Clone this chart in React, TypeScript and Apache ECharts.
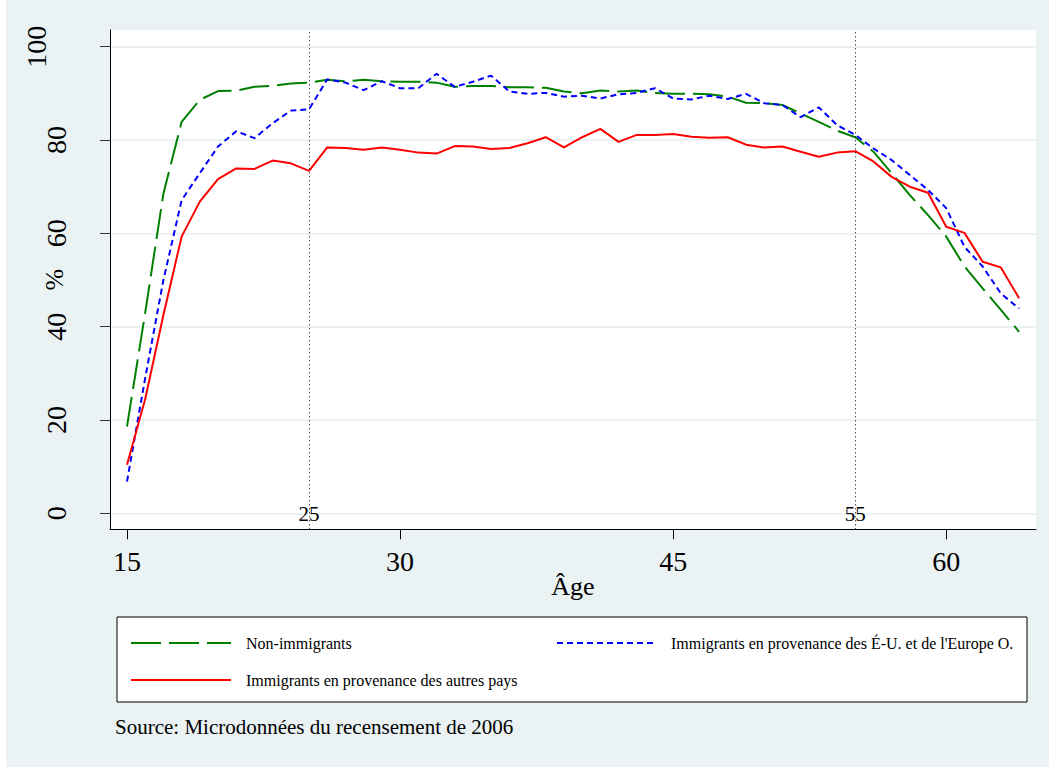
import React, { useEffect, useRef } from "react";
import * as echarts from "echarts";

const ages = [
  15, 16, 17, 18, 19, 20, 21, 22, 23, 24, 25, 26, 27, 28, 29, 30, 31, 32, 33, 34,
  35, 36, 37, 38, 39, 40, 41, 42, 43, 44, 45, 46, 47, 48, 49, 50, 51, 52, 53, 54,
  55, 56, 57, 58, 59, 60, 61, 62, 63, 64,
];

const nonImmigrants = [
  18.6, 43.0, 68.5, 83.9, 88.6, 90.5, 90.6, 91.4, 91.6, 92.1, 92.3, 92.9, 92.6, 92.9, 92.6, 92.5, 92.5, 92.3, 91.4, 91.6,
  91.6, 91.3, 91.3, 91.2, 90.4, 90.0, 90.6, 90.4, 90.6, 90.1, 89.9, 89.9, 89.8, 89.3, 88.0, 87.9, 87.5, 85.7, 83.9, 82.0,
  80.6, 77.5, 72.9, 68.2, 63.9, 59.3, 52.9, 48.2, 43.6, 38.9,
];

const usWestEurope = [
  6.8, 29.0, 50.0, 67.1, 72.9, 78.6, 81.9, 80.4, 83.6, 86.3, 86.6, 93.0, 92.3, 90.7, 92.6, 91.1, 91.1, 94.2, 91.4, 92.5,
  93.8, 90.4, 89.9, 90.1, 89.3, 89.5, 88.9, 89.8, 90.1, 91.1, 88.9, 88.7, 89.5, 88.8, 89.9, 87.9, 87.5, 84.9, 87.0, 83.2,
  81.1, 78.2, 75.7, 72.5, 69.3, 65.4, 57.1, 52.9, 47.1, 43.9,
];

const otherCountries = [
  10.4, 24.5, 42.5, 59.3, 66.8, 71.6, 73.9, 73.8, 75.6, 75.0, 73.4, 78.4, 78.3, 77.9, 78.4, 77.9, 77.3, 77.1, 78.7, 78.6,
  78.1, 78.3, 79.3, 80.6, 78.4, 80.6, 82.4, 79.6, 81.1, 81.1, 81.3, 80.7, 80.5, 80.6, 79.0, 78.4, 78.6, 77.5, 76.4, 77.3,
  77.6, 75.4, 72.1, 70.0, 68.7, 61.4, 60.1, 53.9, 52.7, 46.1,
];

const seriesNames = [
  "Non-immigrants",
  "Immigrants en provenance des É-U. et de l'Europe O.",
  "Immigrants en provenance des autres pays",
];

const xTicks = [15, 30, 45, 60];
const yTicks = [0, 20, 40, 60, 80, 100];
const refLines = [25, 55];

const xTitle = "Âge";
const yTitle = "%";
const sourceNote = "Source: Microdonnées du recensement de 2006";

const FONT = "'Liberation Serif', 'Times New Roman', serif";
const BG = "#EAF2F3";

const toPairs = (vals: number[]) => ages.map((a, i) => [a, vals[i]]);

export default function App() {
  const ref = useRef<HTMLDivElement>(null);

  useEffect(() => {
    if (!ref.current) return;
    const chart = echarts.init(ref.current, null, { renderer: "svg" });

    const legendBase = {
      orient: "horizontal",
      padding: 0,
      itemHeight: 14,
      selectedMode: false,
      itemStyle: { opacity: 0, borderWidth: 0 },
      textStyle: { fontSize: 16, fontFamily: FONT, color: "#000", padding: [0, 0, 0, 10] },
    };

    const option: any = {
      animation: false,
      graphic: [
        {
          type: "rect",
          shape: { x: 117, y: 617, width: 910, height: 85 },
          style: { fill: "#fff", stroke: "#000", lineWidth: 1 },
          silent: true,
        },
      ],
      title: {
        text: sourceNote,
        left: 115,
        top: 716,
        padding: 0,
        textStyle: { fontSize: 21, fontWeight: "normal", fontFamily: FONT, color: "#000" },
      },
      legend: [
        { ...legendBase, data: [seriesNames[0]], left: 130, top: 635, itemWidth: 100 },
        {
          ...legendBase,
          data: [seriesNames[1]],
          left: 556,
          top: 635,
          itemWidth: 98,
          textStyle: { ...legendBase.textStyle, padding: [0, 0, 0, 11] },
        },
        { ...legendBase, data: [seriesNames[2]], left: 130, top: 672, itemWidth: 100 },
      ],
      grid: {
        left: 110,
        top: 30,
        width: 926,
        height: 499.3,
        show: true,
        backgroundColor: "#fff",
        borderWidth: 0,
        containLabel: false,
        outerBoundsMode: "none",
      },
      xAxis: {
        type: "value",
        min: 14.066,
        max: 64.93,
        axisLine: { show: true, onZero: false, lineStyle: { color: "#000", width: 1 } },
        axisTick: { show: true, length: 10, customValues: xTicks, lineStyle: { color: "#000" } },
        axisLabel: { customValues: xTicks, margin: 18, fontSize: 28, fontFamily: FONT, color: "#000" },
        splitLine: { show: false },
        name: xTitle,
        nameLocation: "middle",
        nameGap: 44,
        nameMoveOverlap: false,
        nameTextStyle: { fontSize: 26, fontFamily: FONT, color: "#000" },
      },
      yAxis: {
        type: "value",
        min: -3.43,
        max: 103.58,
        axisLine: { show: true, onZero: false, lineStyle: { color: "#000", width: 1 } },
        axisTick: { show: true, length: 10, customValues: yTicks, lineStyle: { color: "#333" } },
        axisLabel: {
          customValues: yTicks,
          rotate: 90,
          margin: 40,
          fontSize: 28,
          fontFamily: FONT,
          color: "#000",
          formatter: (v: number) => (v === 100 ? `{s|${v}}` : `{n|${v}}`),
          rich: {
            s: { fontSize: 28, fontFamily: FONT, color: "#000", padding: [0, 0, 20, 0] },
            n: { fontSize: 28, fontFamily: FONT, color: "#000" },
          },
        },
        splitLine: { show: true, lineStyle: { color: BG, width: 2 } },
        name: yTitle,
        nameLocation: "middle",
        nameGap: 43,
        nameRotate: 90,
        nameMoveOverlap: false,
        nameTextStyle: { fontSize: 26, fontFamily: FONT, color: "#000" },
      },
      series: [
        {
          name: seriesNames[0],
          type: "line",
          data: toPairs(nonImmigrants),
          symbol: "none",
          lineStyle: { color: "#008000", width: 2, type: [30, 8] },
          itemStyle: { color: "#008000" },
          z: 2,
          markLine: {
            silent: true,
            symbol: ["none", "none"],
            lineStyle: { color: "#000", width: 1, type: [1, 3] },
            label: {
              show: true,
              position: "start",
              distance: -26,
              formatter: "{c}",
              fontSize: 21,
              fontFamily: FONT,
              color: "#000",
            },
            emphasis: { disabled: true },
            data: refLines.map((v) => ({ xAxis: v })),
          },
        },
        {
          name: seriesNames[1],
          type: "line",
          data: toPairs(usWestEurope),
          symbol: "none",
          lineStyle: { color: "#0000FF", width: 2, type: [6, 4] },
          itemStyle: { color: "#0000FF" },
          z: 3,
        },
        {
          name: seriesNames[2],
          type: "line",
          data: toPairs(otherCountries),
          symbol: "none",
          lineStyle: { color: "#FF0000", width: 2, type: "solid" },
          itemStyle: { color: "#FF0000" },
          z: 4,
        },
      ],
    };

    chart.setOption(option);
    return () => chart.dispose();
  }, []);

  return (
    <div
      ref={ref}
      style={{
        position: "absolute",
        left: 0,
        top: 0,
        width: 1049,
        height: 767,
        background: `linear-gradient(to right, #fff 0px, #fff 6px, ${BG} 6px, ${BG} 100%)`,
      }}
    />
  );
}
